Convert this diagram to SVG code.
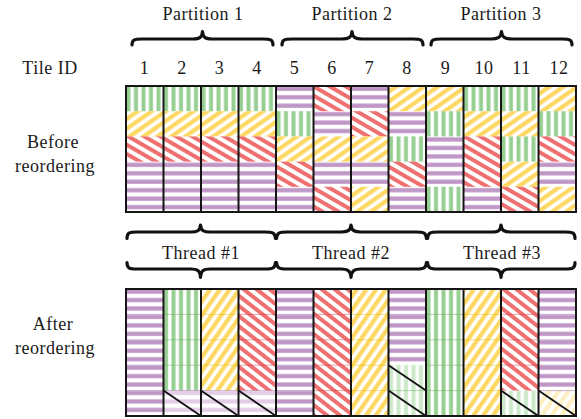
<svg xmlns="http://www.w3.org/2000/svg" width="581" height="419" viewBox="0 0 581 419">
<style>
text{font-family:"Liberation Serif","Times New Roman",serif;font-size:18px;fill:#1a1a1a;letter-spacing:0.5px}
.c{text-anchor:middle}
.G{fill:url(#pG)}.P{fill:url(#pP)}.Yb{fill:url(#pYb)}.Rb{fill:url(#pRb)}
.Ya{fill:url(#pYa)}.Ra{fill:url(#pRa)}.lP{fill:url(#plP)}.lG{fill:url(#plG)}.lY{fill:url(#plY)}
.sep{stroke:#151515;stroke-width:2;fill:none}
.brace{fill:none;stroke:#111;stroke-width:3.2;stroke-linecap:round;stroke-linejoin:round}
.diag{stroke:#111;stroke-width:1.8}
.rl{stroke-width:1;opacity:0.45}
.rlP{stroke:#9c68a6}.rlG{stroke:#5faa5a}.rlY{stroke:#e8b800}.rlR{stroke:#d83a3a}
</style>
<defs>
<pattern id="pG" patternUnits="userSpaceOnUse" x="126" y="0" width="7.5" height="10"><rect x="0.5" width="4" height="10" fill="#97cf93"/></pattern>
<pattern id="plG" patternUnits="userSpaceOnUse" x="126" y="0" width="7.5" height="10"><rect x="0.5" width="4" height="10" fill="#cbe8c8"/></pattern>
<pattern id="pP" patternUnits="userSpaceOnUse" x="0" y="0" width="10" height="8.45"><rect y="2.2" width="10" height="4.2" fill="#c096c7"/></pattern>
<pattern id="plP" patternUnits="userSpaceOnUse" x="0" y="0" width="10" height="8.45"><rect y="2.2" width="10" height="4.2" fill="#e3cde7"/></pattern>
<pattern id="pYb" patternUnits="userSpaceOnUse" width="8" height="8" patternTransform="rotate(55)"><rect width="4.3" height="8" fill="#fdd864"/></pattern>
<pattern id="pYa" patternUnits="userSpaceOnUse" width="8" height="8" patternTransform="rotate(35)"><rect width="4.3" height="8" fill="#fdd864"/></pattern>
<pattern id="plY" patternUnits="userSpaceOnUse" width="8" height="8" patternTransform="rotate(35)"><rect width="4.3" height="8" fill="#feefc2"/></pattern>
<pattern id="pRb" patternUnits="userSpaceOnUse" width="8" height="8" patternTransform="rotate(-60)"><rect width="4" height="8" fill="#ee7070"/></pattern>
<pattern id="pRa" patternUnits="userSpaceOnUse" width="8" height="8" patternTransform="rotate(-52)"><rect width="4" height="8" fill="#ee7070"/></pattern>
</defs>
<rect width="581" height="419" fill="#fff"/>

<g id="labels">
<text class="c" x="203" y="20">Partition 1</text>
<text class="c" x="352" y="20">Partition 2</text>
<text class="c" x="501" y="20">Partition 3</text>
<text class="c" x="50" y="74">Tile ID</text>
<text class="c" x="144.5" y="74">1</text>
<text class="c" x="182" y="74">2</text>
<text class="c" x="219.5" y="74">3</text>
<text class="c" x="257" y="74">4</text>
<text class="c" x="294.5" y="74">5</text>
<text class="c" x="332" y="74">6</text>
<text class="c" x="369.5" y="74">7</text>
<text class="c" x="407" y="74">8</text>
<text class="c" x="445.5" y="74">9</text>
<text class="c" x="484" y="74">10</text>
<text class="c" x="521.5" y="74">11</text>
<text class="c" x="559" y="74">12</text>
<text class="c" x="53" y="148">Before</text>
<text class="c" x="55" y="172">reordering</text>
<text class="c" x="53" y="330">After</text>
<text class="c" x="55" y="354">reordering</text>
<text class="c" x="201" y="259">Thread #1</text>
<text class="c" x="351" y="259">Thread #2</text>
<text class="c" x="502" y="259">Thread #3</text>
</g>

<g id="braces">
<path class="brace" d="M132 45 C132 40,134 39,142 39 L193 39 C199 39,202 38,202.5 31.5 C203 38,206 39,212 39 L263 39 C271 39,273 40,273 45"/>
<path class="brace" d="M282 45 C282 40,284 39,292 39 L342 39 C348 39,351.5 38,352 31.5 C352.5 38,356 39,362 39 L413 39 C421 39,423 40,423 45"/>
<path class="brace" d="M431 45 C431 40,433 39,441 39 L491 39 C497 39,501 38,501.5 31.5 C502 38,506 39,512 39 L562 39 C570 39,572 40,572 45"/>
<path class="brace" d="M127 238.5 C127 233,129 232,137 232 L191 232 C197 232,200 231,200.5 225 C201 231,204 232,210 232 L265 232 C273 232,275 233,275.5 238.5"/>
<path class="brace" d="M276.5 238.5 C277 233,279 232,287 232 L341 232 C347 232,350.5 231,351 225 C351.5 231,355 232,361 232 L416 232 C424 232,426 233,426.5 238.5"/>
<path class="brace" d="M427.5 238.5 C428 233,430 232,438 232 L492 232 C498 232,500.5 231,501 225 C501.5 231,505 232,511 232 L565 232 C573 232,575 233,575 238.5"/>
<path class="brace" d="M127 262.5 C127 268,129 269,137 269 L191 269 C197 269,200 270,200.5 277.5 C201 270,204 269,210 269 L265 269 C273 269,275 268,275.5 262.5"/>
<path class="brace" d="M276.5 262.5 C277 268,279 269,287 269 L341 269 C347 269,350.5 270,351 277.5 C351.5 270,355 269,361 269 L416 269 C424 269,426 268,426.5 262.5"/>
<path class="brace" d="M427.5 262.5 C428 268,430 269,438 269 L492 269 C498 269,500.5 270,501 277.5 C501.5 270,505 269,511 269 L565 269 C573 269,575 268,575 262.5"/>
</g>

<g id="before-grid">
<g id="b1"><rect class="G" x="126" y="86" width="37.5" height="25.2"/><rect class="Yb" x="126" y="111.2" width="37.5" height="25.2"/><rect class="Rb" x="126" y="136.4" width="37.5" height="25.2"/><rect class="P" x="126" y="161.6" width="37.5" height="50.4"/></g>
<g id="b2"><rect class="G" x="163.5" y="86" width="37.5" height="25.2"/><rect class="Yb" x="163.5" y="111.2" width="37.5" height="25.2"/><rect class="Rb" x="163.5" y="136.4" width="37.5" height="25.2"/><rect class="P" x="163.5" y="161.6" width="37.5" height="50.4"/></g>
<g id="b3"><rect class="G" x="201" y="86" width="37.5" height="25.2"/><rect class="Yb" x="201" y="111.2" width="37.5" height="25.2"/><rect class="Rb" x="201" y="136.4" width="37.5" height="25.2"/><rect class="P" x="201" y="161.6" width="37.5" height="50.4"/></g>
<g id="b4"><rect class="G" x="238.5" y="86" width="37.5" height="25.2"/><rect class="Yb" x="238.5" y="111.2" width="37.5" height="25.2"/><rect class="Rb" x="238.5" y="136.4" width="37.5" height="25.2"/><rect class="P" x="238.5" y="161.6" width="37.5" height="50.4"/></g>
<g id="b5"><rect class="P" x="276" y="86" width="37.5" height="25.2"/><rect class="G" x="276" y="111.2" width="37.5" height="25.2"/><rect class="Yb" x="276" y="136.4" width="37.5" height="25.2"/><rect class="Rb" x="276" y="161.6" width="37.5" height="25.2"/><rect class="P" x="276" y="186.8" width="37.5" height="25.2"/></g>
<g id="b6"><rect class="Rb" x="313.5" y="86" width="37.5" height="25.2"/><rect class="P" x="313.5" y="111.2" width="37.5" height="25.2"/><rect class="Yb" x="313.5" y="136.4" width="37.5" height="25.2"/><rect class="P" x="313.5" y="161.6" width="37.5" height="25.2"/><rect class="Rb" x="313.5" y="186.8" width="37.5" height="25.2"/></g>
<g id="b7"><rect class="P" x="351" y="86" width="37.5" height="25.2"/><rect class="Rb" x="351" y="111.2" width="37.5" height="25.2"/><rect class="Yb" x="351" y="136.4" width="37.5" height="25.2"/><rect class="P" x="351" y="161.6" width="37.5" height="25.2"/><rect class="Yb" x="351" y="186.8" width="37.5" height="25.2"/></g>
<g id="b8"><rect class="Yb" x="388.5" y="86" width="37.5" height="25.2"/><rect class="P" x="388.5" y="111.2" width="37.5" height="25.2"/><rect class="G" x="388.5" y="136.4" width="37.5" height="25.2"/><rect class="Rb" x="388.5" y="161.6" width="37.5" height="25.2"/><rect class="P" x="388.5" y="186.8" width="37.5" height="25.2"/></g>
<g id="b9"><rect class="Yb" x="426" y="86" width="37.5" height="25.2"/><rect class="G" x="426" y="111.2" width="37.5" height="25.2"/><rect class="P" x="426" y="136.4" width="37.5" height="50.4"/><rect class="G" x="426" y="186.8" width="37.5" height="25.2"/></g>
<g id="b10"><rect class="G" x="463.5" y="86" width="37.5" height="25.2"/><rect class="Yb" x="463.5" y="111.2" width="37.5" height="25.2"/><rect class="Rb" x="463.5" y="136.4" width="37.5" height="50.4"/><rect class="P" x="463.5" y="186.8" width="37.5" height="25.2"/></g>
<g id="b11"><rect class="G" x="501" y="86" width="37.5" height="25.2"/><rect class="Yb" x="501" y="111.2" width="37.5" height="25.2"/><rect class="G" x="501" y="136.4" width="37.5" height="25.2"/><rect class="Yb" x="501" y="161.6" width="37.5" height="25.2"/><rect class="Rb" x="501" y="186.8" width="37.5" height="25.2"/></g>
<g id="b12"><rect class="Yb" x="538.5" y="86" width="37.5" height="25.2"/><rect class="G" x="538.5" y="111.2" width="37.5" height="25.2"/><rect class="Rb" x="538.5" y="136.4" width="37.5" height="25.2"/><rect class="P" x="538.5" y="161.6" width="37.5" height="25.2"/><rect class="Yb" x="538.5" y="186.8" width="37.5" height="25.2"/></g>
<path class="sep" d="M163.5 86V212M201 86V212M238.5 86V212M276 86V212M313.5 86V212M351 86V212M388.5 86V212M426 86V212M463.5 86V212M501 86V212M538.5 86V212"/>
<rect class="sep" x="126" y="86" width="450" height="126"/>
</g>

<g id="after-grid">
<g id="a1"><rect class="P" x="126" y="289" width="37.5" height="127"/></g>
<g id="a2"><rect class="G" x="163.5" y="289" width="37.5" height="101.6"/><rect class="lP" x="163.5" y="390.6" width="37.5" height="25.4"/></g>
<g id="a3"><rect class="Ya" x="201" y="289" width="37.5" height="101.6"/><rect class="lP" x="201" y="390.6" width="37.5" height="25.4"/></g>
<g id="a4"><rect class="Ra" x="238.5" y="289" width="37.5" height="101.6"/><rect class="lP" x="238.5" y="390.6" width="37.5" height="25.4"/></g>
<g id="a5"><rect class="P" x="276" y="289" width="37.5" height="127"/></g>
<g id="a6"><rect class="Ra" x="313.5" y="289" width="37.5" height="127"/></g>
<g id="a7"><rect class="Ya" x="351" y="289" width="37.5" height="127"/></g>
<g id="a8"><rect class="P" x="388.5" y="289" width="37.5" height="76.2"/><rect class="lG" x="388.5" y="365.2" width="37.5" height="50.8"/></g>
<g id="a9"><rect class="G" x="426" y="289" width="37.5" height="127"/></g>
<g id="a10"><rect class="Ya" x="463.5" y="289" width="37.5" height="127"/></g>
<g id="a11"><rect class="Ra" x="501" y="289" width="37.5" height="101.6"/><rect class="lG" x="501" y="390.6" width="37.5" height="25.4"/></g>
<g id="a12"><rect class="P" x="538.5" y="289" width="37.5" height="101.6"/><rect class="lY" x="538.5" y="390.6" width="37.5" height="25.4"/></g>
<g id="row-lines">
<path class="rl rlP" d="M126 314.4h37.5M126 339.8h37.5M126 365.2h37.5M126 390.6h37.5M276 314.4h37.5M276 339.8h37.5M276 365.2h37.5M276 390.6h37.5M388.5 314.4h37.5M388.5 339.8h37.5M538.5 314.4h37.5M538.5 339.8h37.5M538.5 365.2h37.5M538.5 390.6h37.5M163.5 390.6h112.5"/>
<path class="rl rlG" d="M163.5 314.4h37.5M163.5 339.8h37.5M163.5 365.2h37.5M426 314.4h37.5M426 339.8h37.5M426 365.2h37.5M426 390.6h37.5M388.5 390.6h37.5"/>
<path class="rl rlY" d="M201 314.4h37.5M201 339.8h37.5M201 365.2h37.5M351 314.4h37.5M351 339.8h37.5M351 365.2h37.5M351 390.6h37.5M463.5 314.4h37.5M463.5 339.8h37.5M463.5 365.2h37.5M463.5 390.6h37.5"/>
<path class="rl rlR" d="M238.5 314.4h37.5M238.5 339.8h37.5M238.5 365.2h37.5M313.5 314.4h37.5M313.5 339.8h37.5M313.5 365.2h37.5M313.5 390.6h37.5M501 314.4h37.5M501 339.8h37.5M501 365.2h37.5"/>
</g>
<g id="removed-marks">
<line class="diag" x1="163.5" y1="390.6" x2="201" y2="416"/>
<line class="diag" x1="201" y1="390.6" x2="238.5" y2="416"/>
<line class="diag" x1="238.5" y1="390.6" x2="276" y2="416"/>
<line class="diag" x1="388.5" y1="365.2" x2="426" y2="390.6"/>
<line class="diag" x1="388.5" y1="390.6" x2="426" y2="416"/>
<line class="diag" x1="501" y1="390.6" x2="538.5" y2="416"/>
<line class="diag" x1="538.5" y1="390.6" x2="576" y2="416"/>
</g>
<path class="sep" d="M163.5 289V416M201 289V416M238.5 289V416M276 289V416M313.5 289V416M351 289V416M388.5 289V416M426 289V416M463.5 289V416M501 289V416M538.5 289V416"/>
<rect class="sep" x="126" y="289" width="450" height="127"/>
</g>
</svg>
